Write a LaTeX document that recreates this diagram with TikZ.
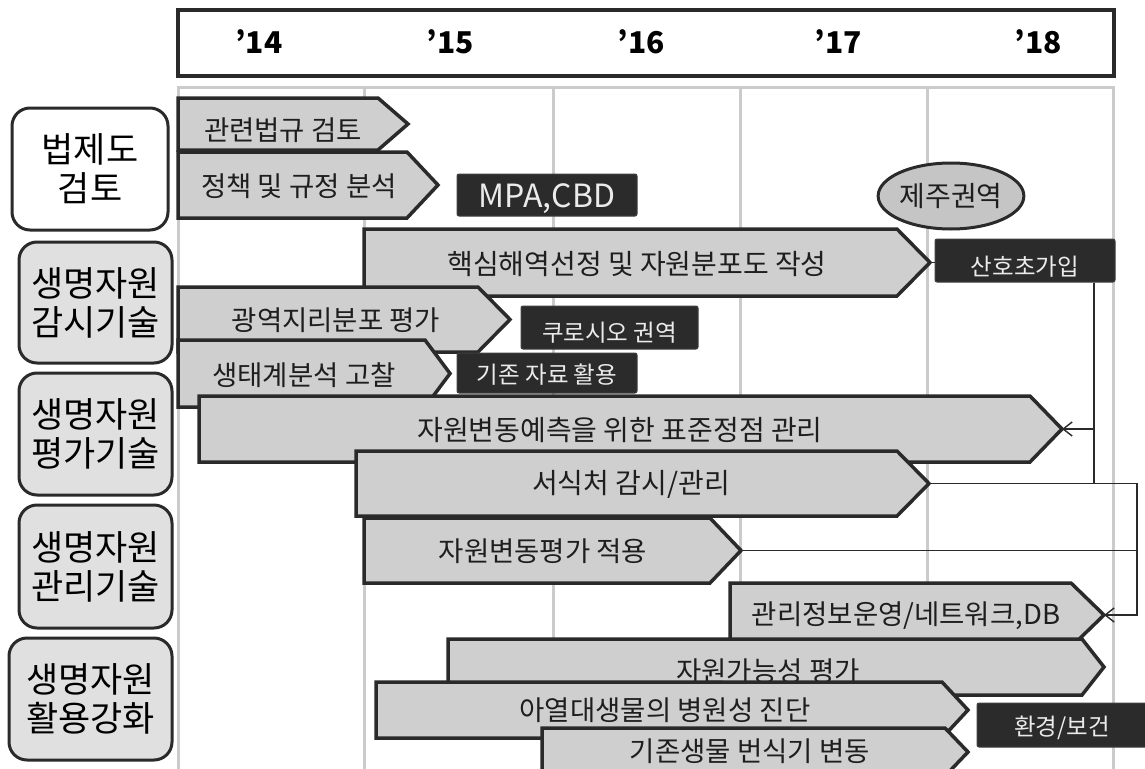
\documentclass[tikz,border=0pt]{standalone}
\usepackage{fontspec}
\setmainfont{Noto Sans CJK KR}
\usetikzlibrary{arrows.meta,shapes.geometric}
\definecolor{arfill}{HTML}{CFCFCF}
\definecolor{arline}{HTML}{2A2A2A}
\definecolor{gridc}{HTML}{CBCBCB}
\definecolor{dbox}{HTML}{2B2B2B}
\definecolor{lboxfill}{HTML}{E0E0E0}
\definecolor{txt}{HTML}{1E1E1E}
\tikzset{
 chevst/.style={draw=arline, fill=arfill, line width=3.5pt, line join=miter},
 chevtxt/.style={text=txt, inner sep=0pt, font=\fontsize{27.5}{30}\selectfont},
 gridline/.style={draw=gridc, line width=3pt},
 lbox/.style={draw=arline, line width=3pt, rounded corners=18pt, fill=lboxfill, align=center, inner sep=0pt, font=\fontsize{35}{39}\selectfont, text=black},
 dkbox/.style={draw=black!75, fill=dbox, line width=1pt, rounded corners=2pt, text=white!92!black, inner sep=0pt, text depth=0pt, font=\fontsize{23.5}{25}\selectfont},
 yr/.style={font=\fontsize{30}{32}\selectfont\bfseries, text=black, inner sep=0pt},
 conn/.style={draw=arline, line width=1.4pt},
 tipst/.style={-{Straight Barb[length=9pt,width=14pt,line width=1.4pt]}}
}
\newcommand\chev[9]{%
  \draw[chevst] (#2,#5) -- (#3,#5) -- (#4,{(#5+#6)/2}) -- (#3,#6) -- (#2,#6) -- cycle;
  \coordinate (#1-tip) at (#4,{(#5+#6)/2});
  \node[chevtxt] (#1) at (#8,#9) {#7};
}
\begin{document}
\begin{tikzpicture}[x=1pt,y=-1pt]
\useasboundingbox (0,0) rectangle (1145,768);
\clip (0,0) rectangle (1145,768);
\fill[white] (0,0) rectangle (1145,768);
% grid
\foreach \gx in {178,364,553,740,927,1113} \draw[gridline] (\gx,87) -- (\gx,772);
\draw[gridline] (176.5,87) -- (1114.5,87);
% header
\draw[draw=arline, line width=3.5pt, fill=white] (178,10) rectangle (1114,76);
\node[yr] (y14) at (259,42) {’14};
\node[yr] (y15) at (450,42) {’15};
\node[yr] (y16) at (641,42) {’16};
\node[yr] (y17) at (838,42) {’17};
\node[yr] (y18) at (1038,42) {’18};
% left labels
\node[lbox, fill=white, minimum width=156pt, minimum height=122pt] (l1) at (90,169) {법제도\\검토};
\node[lbox, minimum width=153pt, minimum height=121pt] (l2) at (95.5,302.5) {생명자원\\감시기술};
\node[lbox, minimum width=153pt, minimum height=122pt] (l3) at (95.5,434) {생명자원\\평가기술};
\node[lbox, minimum width=153pt, minimum height=123pt] (l4) at (95.5,566.5) {생명자원\\관리기술};
\node[lbox, minimum width=163pt, minimum height=122pt] (l5) at (90.5,699) {생명자원\\활용강화};
% chevrons
\chev{law}{178}{378}{408}{98}{150}{관련법규 검토}{283}{130}
\chev{policy}{178}{407}{438}{152}{218}{정책 및 규정 분석}{299}{186}
\node[dkbox, minimum width=180pt, minimum height=42pt, text height=25pt, font=\fontsize{32}{34}\selectfont] (mpa) at (547,195) {MPA,CBD};
\chev{core}{364}{897}{930}{229}{296}{{\fontsize{28}{30}\selectfont 핵심해역선정 및 자원분포도 작성}}{637}{264}
\chev{wide}{178}{478}{510}{287}{352}{광역지리분포 평가}{336}{320}
\node[dkbox, minimum width=177pt, minimum height=43pt, text height=27.7pt] (kuro) at (609.5,327.5) {쿠로시오 권역};
\chev{eco}{178}{425}{450}{340}{407}{생태계분석 고찰}{304}{375}
\node[dkbox, minimum width=180pt, minimum height=40pt, text height=20.7pt] (data) at (547,373) {기존 자료 활용};
\chev{std}{199}{1030}{1062}{396}{462}{{\fontsize{28}{30}\selectfont 자원변동예측을 위한 표준정점 관리}}{620}{430}
\chev{hab}{356}{897}{929}{451}{516}{{\fontsize{28}{30}\selectfont 서식처 감시/관리}}{631}{484}
\chev{apply}{364}{710}{741}{518}{583}{자원변동평가 적용}{543}{551}
\chev{mgmt}{730}{1071}{1104}{583}{647}{관리정보운영/네트워크,DB}{906}{616}
\chev{poss}{448}{1082}{1104}{639}{695}{자원가능성 평가}{768}{671}
\chev{subtrop}{376}{942}{968}{682}{738}{아열대생물의 병원성 진단}{665}{710}
\chev{exist}{542}{945}{968}{728}{776}{기존생물 번식기 변동}{750}{751}
% other boxes
\node[ellipse, draw=arline, line width=3pt, fill=arfill!95!black, minimum width=118pt, minimum height=66pt, inner sep=0pt, text=txt, font=\fontsize{28}{30}\selectfont] (jeju) at (951,196) {제주권역};
\node[dkbox, minimum width=180pt, minimum height=43pt, text height=29.7pt] (sanho) at (1025,260.5) {산호초가입};
\node[dkbox, minimum width=170pt, minimum height=44pt, text height=20.7pt] (env) at (1062,725) {환경/보건};
% connectors
\coordinate (j1) at (1094,483);
\coordinate (c2) at (1137,483);
\draw[conn] (core-tip) -- (core-tip -| sanho.west);
\draw[conn] (sanho.south -| j1) -- (j1);
\draw[conn,tipst] (j1 |- std-tip) -- (std-tip);
\draw[conn,tipst] (hab-tip) -- (hab-tip -| c2) |- (mgmt-tip);
\draw[conn] (apply-tip) -- (apply-tip -| c2);
\end{tikzpicture}
\end{document}
